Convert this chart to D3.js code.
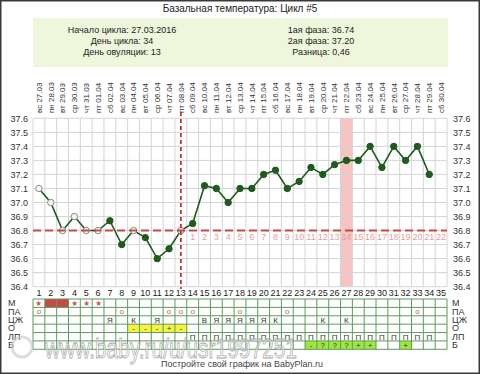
<!DOCTYPE html>
<html>
<head>
<meta charset="utf-8">
<script src="https://cdn.jsdelivr.net/npm/d3@7"></script>
<style>
  body { margin: 0; background: #fff; }
  svg { display: block; font-family: "Liberation Sans", Arial, sans-serif; }
</style>
</head>
<body>
<script>
// chart data
var dates = ["вс 27.03","пн 28.03","вт 29.03","ср 30.03","чт 31.03","пт 01.04","сб 02.04",
  "вс 03.04","пн 04.04","вт 05.04","ср 06.04","чт 07.04","пт 08.04","сб 09.04",
  "вс 10.04","пн 11.04","вт 12.04","ср 13.04","чт 14.04","пт 15.04","сб 16.04",
  "вс 17.04","пн 18.04","вт 19.04","ср 20.04","чт 21.04","пт 22.04","сб 23.04",
  "вс 24.04","пн 25.04","вт 26.04","ср 27.04","чт 28.04","пт 29.04","сб 30.04"];

var temps = [37.1, 37.0, 36.8, 36.9, 36.8, 36.8, 36.87, 36.7, 36.8, 36.75, 36.6, 36.67, 36.8, 36.85,
  37.12, 37.1, 37.0, 37.1, 37.1, 37.2, 37.23, 37.1, 37.15, 37.25, 37.2, 37.27, 37.3, 37.3,
  37.4, 37.25, 37.4, 37.3, 37.4, 37.2];

var hollowDays = [1, 2, 3, 4, 5, 6, 9, 13];
var yTicks = [36.4, 36.5, 36.6, 36.7, 36.8, 36.9, 37.0, 37.1, 37.2, 37.3, 37.4, 37.5, 37.6];
var coverTemp = 36.8;
var ovulationDay = 13;
var markedDay = 27;
var phaseNumbers = ["1","2","3","4","5","6","7","8","9","10","11","12","13","14","15","16","17","18","19","20","21","22"];

var infoLeft = ["Начало цикла: 27.03.2016", "День цикла: 34", "День овуляции: 13"];
var infoRight = ["1ая фаза: 36.74", "2ая фаза: 37.20", "Разница: 0,46"];

var rowNames = ["М", "ПА", "ЦЖ", "О", "ЛП", "Б"];
// table rows: [day, mark]
var rowM = [[1, "★"], [2, "red"], [3, "red"], [4, "★"], [5, "★"], [6, "★"]];
var rowPA = [[1, "o"], [8, "o"], [12, "o"], [13, "o"], [14, "o"], [18, "o"], [22, "o"], [33, "o"]];
var rowCJ = [[7, "Я"], [9, "К"], [11, "Я"], [15, "В"], [16, "Я"], [17, "Я"], [18, "Я"], [19, "Я"],
  [20, "Я"], [21, "К"], [25, "К"], [27, "К"]];
var rowO = [[9, "-"], [10, "-"], [11, "-"], [12, "+"], [13, "-"]];
var rowLP = [[14,"П"],[15,"П"],[16,"П"],[17,"П"],[18,"П"],[19,"П"],[20,"П"],[21,"П"],[22,"П"],[23,"П"],
  [24,"П"],[25,"П"],[26,"П"],[27,"П"],[28,"П"],[29,"П"],[30,"П"],[31,"П"],[32,"П"],[33,"П"],[34,"П"]];
var rowB = [[24, "-"], [25, "?"], [26, "?"], [27, "?"], [28, "+"], [29, "+"], [32, "+"]];

var width = 480, height = 374;
var plotLeft = 33, plotRight = 447, plotTop = 118.3, plotBottom = 286.7;

var svg = d3.select("body").append("svg")
  .attr("width", width)
  .attr("height", height);

// frame
svg.append("rect")
  .attr("x", 0.5).attr("y", 0.5)
  .attr("width", width - 1).attr("height", height - 1)
  .attr("fill", "#fff")
  .attr("stroke", "#3a3a3a")
  .attr("stroke-width", 2);

var dayNums = dates.map((d, i) => i + 1);

var x = d3.scaleBand().domain(dayNums).range([plotLeft, plotRight]);
var cx = d => x(d) + x.bandwidth() / 2;

var y = d3.scaleLinear().domain([36.4, 37.6]).range([plotBottom, plotTop]);

// header
svg.append("text")
  .attr("x", 240).attr("y", 12)
  .attr("text-anchor", "middle")
  .style("font-size", "10px")
  .attr("fill", "#222")
  .text("Базальная температура: Цикл #5");

svg.append("rect")
  .attr("x", plotLeft).attr("y", 18)
  .attr("width", plotRight - plotLeft + 1).attr("height", 49)
  .attr("fill", "#eef7dc");

svg.selectAll(".infoL").data(infoLeft).enter().append("text")
  .attr("x", 122).attr("y", (d, i) => 33 + i * 11)
  .attr("text-anchor", "middle")
  .style("font-size", "9px")
  .attr("fill", "#222")
  .text(d => d);

svg.selectAll(".infoR").data(infoRight).enter().append("text")
  .attr("x", 321).attr("y", (d, i) => 33 + i * 11)
  .attr("text-anchor", "middle")
  .style("font-size", "9px")
  .attr("fill", "#222")
  .text(d => d);

// date labels (rotated)
svg.selectAll(".date").data(dates).enter().append("text")
  .attr("transform", (d, i) => "translate(" + cx(i + 1) + ",113) rotate(-90)")
  .attr("dy", "0.35em")
  .attr("text-anchor", "start")
  .style("font-size", "8px")
  .attr("fill", "#333")
  .text(d => d);

// marked column
svg.append("rect")
  .attr("x", x(markedDay)).attr("y", plotTop)
  .attr("width", x.bandwidth()).attr("height", plotBottom - plotTop)
  .attr("fill", "#f7c3c3");

// grid
svg.append("g").selectAll("line").data(yTicks).enter().append("line")
  .attr("x1", plotLeft).attr("x2", plotRight)
  .attr("y1", d => y(d)).attr("y2", d => y(d))
  .attr("stroke", "#d4d4d4");

svg.append("g").selectAll("line").data(dayNums.concat([36])).enter().append("line")
  .attr("x1", d => d === 36 ? plotRight : x(d))
  .attr("x2", d => d === 36 ? plotRight : x(d))
  .attr("y1", plotTop).attr("y2", plotBottom)
  .attr("stroke", "#d4d4d4");

// y axes
var yLeft = svg.append("g")
  .attr("transform", "translate(" + (plotLeft - 4) + ",0)")
  .call(d3.axisLeft(y).tickValues(yTicks).tickFormat(d3.format(".1f")).tickSize(0).tickPadding(1));
var yRight = svg.append("g")
  .attr("transform", "translate(" + (plotRight + 5) + ",0)")
  .call(d3.axisRight(y).tickValues(yTicks).tickFormat(d3.format(".1f")).tickSize(0).tickPadding(1));
[yLeft, yRight].forEach(function(g) {
  g.select(".domain").remove();
  g.selectAll("text").style("font-size", "9px").attr("fill", "#333")
    .style("font-family", "'Liberation Sans', Arial, sans-serif");
});

// phase numbers below the cover line
svg.selectAll(".phase").data(phaseNumbers).enter().append("text")
  .attr("x", (d, i) => cx(ovulationDay + 1 + i))
  .attr("y", y(coverTemp) + 9)
  .attr("text-anchor", "middle")
  .style("font-size", "9px")
  .attr("fill", "#e3a0a0")
  .text(d => d);

// temperature line
var points = temps.map((t, i) => ({ day: i + 1, t: t }));

svg.append("path")
  .datum(points)
  .attr("fill", "none")
  .attr("stroke", "#1f5a1f")
  .attr("stroke-width", 1.6)
  .attr("d", d3.line().x(d => cx(d.day)).y(d => y(d.t)));

svg.selectAll(".pt").data(points).enter().append("circle")
  .attr("cx", d => cx(d.day))
  .attr("cy", d => y(d.t))
  .attr("r", 3.2)
  .attr("fill", d => hollowDays.includes(d.day) ? "#f6f6f2" : "#1f5a1f")
  .attr("stroke", d => hollowDays.includes(d.day) ? "#8a8a80" : "#1f5a1f")
  .attr("stroke-width", 1);

// cover line and ovulation line
svg.append("line")
  .attr("x1", plotLeft).attr("x2", plotRight)
  .attr("y1", y(coverTemp)).attr("y2", y(coverTemp))
  .attr("stroke", "#c0302e")
  .attr("stroke-width", 2)
  .attr("stroke-opacity", 0.85)
  .attr("stroke-dasharray", "8,4");

svg.append("line")
  .attr("x1", cx(ovulationDay)).attr("x2", cx(ovulationDay))
  .attr("y1", 112).attr("y2", 289)
  .attr("stroke", "#c0302e")
  .attr("stroke-width", 1.8)
  .attr("stroke-dasharray", "4,3");

// table
var tableTop = 299, tableBottom = 349.3;
var rows = d3.scaleBand().domain(rowNames).range([tableTop, tableBottom]);

svg.selectAll(".daynum").data(dayNums).enter().append("text")
  .attr("x", d => cx(d)).attr("y", 295.5)
  .attr("text-anchor", "middle")
  .style("font-size", "9px")
  .attr("fill", "#222")
  .text(d => d);

var tableData = [
  { row: "М", items: rowM },
  { row: "ПА", items: rowPA },
  { row: "ЦЖ", items: rowCJ },
  { row: "О", items: rowO, bg: "#f4f43c" },
  { row: "ЛП", items: rowLP },
  { row: "Б", items: rowB, bg: "#9ee83e" }
];

// backgrounds
tableData.forEach(function(r) {
  svg.append("g").selectAll("rect").data(r.items.filter(it => r.bg || it[1] === "red")).enter()
    .append("rect")
    .attr("x", d => x(d[0]))
    .attr("y", rows(r.row))
    .attr("width", x.bandwidth())
    .attr("height", rows.bandwidth())
    .attr("fill", d => d[1] === "red" ? "#c94848" : r.bg);
});

// table grid
svg.append("g").selectAll("line").data(rowNames.map(r => rows(r)).concat([tableBottom])).enter()
  .append("line")
  .attr("x1", plotLeft).attr("x2", plotRight)
  .attr("y1", d => d).attr("y2", d => d)
  .attr("stroke", "#5c9a5c").attr("stroke-width", 1);
svg.append("g").selectAll("line").data(dayNums.map(d => x(d)).concat([plotRight])).enter()
  .append("line")
  .attr("x1", d => d).attr("x2", d => d)
  .attr("y1", tableTop).attr("y2", tableBottom)
  .attr("stroke", "#5c9a5c").attr("stroke-width", 1);

// table marks
tableData.forEach(function(r) {
  svg.append("g").selectAll("text").data(r.items.filter(it => it[1] !== "red")).enter()
    .append("text")
    .attr("x", d => cx(d[0]))
    .attr("y", rows(r.row) + rows.bandwidth() / 2)
    .attr("dy", "0.35em")
    .attr("text-anchor", "middle")
    .style("font-size", d => d[1] === "★" ? "8px" : "8px")
    .attr("fill", d => d[1] === "★" ? "#c06262" : (d[1] === "o" ? "#b06a50" : "#333"))
    .text(d => d[1]);
});

// row labels
svg.selectAll(".rowL").data(rowNames).enter().append("text")
  .attr("x", 8).attr("y", d => rows(d) + rows.bandwidth() / 2)
  .attr("dy", "0.35em")
  .style("font-size", "9px").attr("fill", "#333")
  .text(d => d);
svg.selectAll(".rowR").data(rowNames).enter().append("text")
  .attr("x", 452).attr("y", d => rows(d) + rows.bandwidth() / 2)
  .attr("dy", "0.35em")
  .style("font-size", "9px").attr("fill", "#333")
  .text(d => d);

// watermark
svg.append("circle")
  .attr("cx", 22).attr("cy", 347).attr("r", 10)
  .attr("fill", "none").attr("stroke", "#c8c8c8").attr("stroke-width", 3).attr("opacity", 0.6);
svg.append("text")
  .attr("x", 45).attr("y", 358)
  .attr("textLength", 252)
  .attr("lengthAdjust", "spacingAndGlyphs")
  .style("font-size", "27px")
  .attr("fill", "#ffffff").attr("fill-opacity", 0.55)
  .attr("stroke", "#a8a8a8").attr("stroke-width", 0.8)
  .text("www.baby.ru/u/usr1997251");

// footer
svg.append("text")
  .attr("x", 242).attr("y", 367)
  .attr("text-anchor", "middle")
  .style("font-size", "9px").attr("fill", "#444")
  .text("Постройте свой график на BabyPlan.ru");
</script>
</body>
</html>
